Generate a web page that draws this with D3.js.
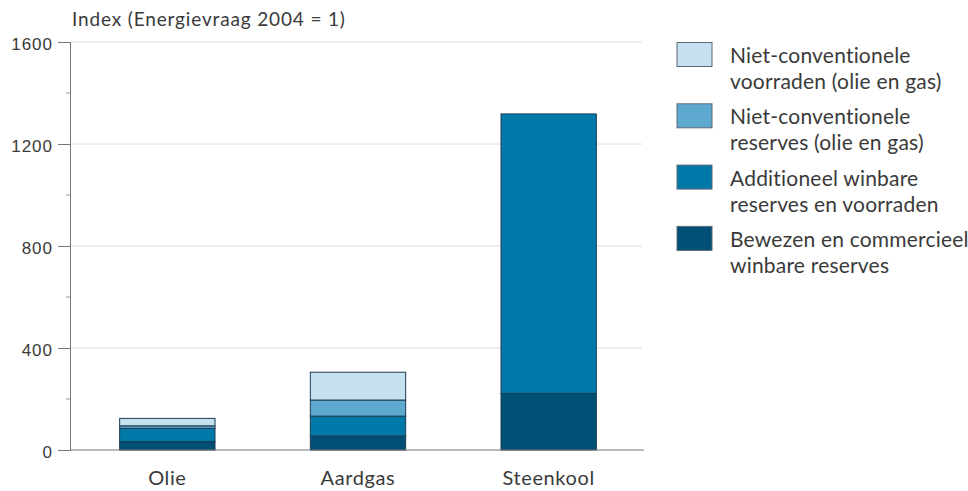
<!DOCTYPE html>
<html>
<head>
<meta charset="utf-8">
<script src="https://cdn.jsdelivr.net/npm/d3@7.9.0/dist/d3.min.js"></script>
<style>
  body { margin: 0; background: #fff; }
  svg { font-family: Lato, sans-serif; }
</style>
</head>
<body>
<svg id="chart" width="968" height="491"></svg>
<script>
const categories = ['Olie', 'Aardgas', 'Steenkool'];
const seriesNames = [
  'Bewezen en commercieel winbare reserves',
  'Additioneel winbare reserves en voorraden',
  'Niet-conventionele reserves (olie en gas)',
  'Niet-conventionele voorraden (olie en gas)'
];
const bewezen = [33, 55, 222];
const additioneel = [52, 78, 1096];
const nietConvReserves = [10, 63, 0];
const nietConvVoorraden = [29, 109, 0];
const yTicks = [0, 400, 800, 1200, 1600];
const minorTicks = [200, 600, 1000, 1400];
const colors = ['#004f74', '#0079a9', '#5ea9cf', '#c5e0ef'];
const legendLines = [
  ['Niet-conventionele', 'voorraden (olie en gas)'],
  ['Niet-conventionele', 'reserves (olie en gas)'],
  ['Additioneel winbare', 'reserves en voorraden'],
  ['Bewezen en commercieel', 'winbare reserves']
];

const table = categories.map((c, i) => ({
  cat: c, s0: bewezen[i], s1: additioneel[i], s2: nietConvReserves[i], s3: nietConvVoorraden[i]
}));
const stack = d3.stack().keys(['s0', 's1', 's2', 's3'])(table);

const svg = d3.select('#chart');
const mLeft = 70, mRight = 642, mTop = 42, mBottom = 450;
const textColor = '#3a3a3a';

const x = d3.scaleBand().domain(categories).range([72, 644]).paddingInner(0.5).paddingOuter(0.25);
const y = d3.scaleLinear().domain([0, 1600]).range([mBottom, mTop]);

// grid
svg.append('g').selectAll('line').data(yTicks.filter(d => d > 0)).join('line')
  .attr('x1', mLeft).attr('x2', mRight)
  .attr('y1', d => y(d)).attr('y2', d => y(d))
  .attr('stroke', '#dcdcdc').attr('stroke-width', 1);

// bars
svg.append('g').selectAll('g').data(stack).join('g')
  .attr('fill', (d, i) => colors[i])
  .selectAll('rect').data(d => d.filter(s => s[1] - s[0] > 0)).join('rect')
  .attr('x', d => x(d.data.cat))
  .attr('width', x.bandwidth())
  .attr('y', d => y(d[1]))
  .attr('height', d => y(d[0]) - y(d[1]))
  .attr('stroke', '#1d3d52').attr('stroke-width', 1);

// y axis
const yAxis = d3.axisLeft(y).tickValues(yTicks).tickSize(12).tickPadding(5).tickFormat(d3.format('d'));
const ya = svg.append('g').attr('transform', `translate(${mLeft},0)`).call(yAxis);
ya.select('.domain').attr('stroke', '#777');
ya.selectAll('.tick line').attr('stroke', '#777');
ya.selectAll('.tick text').attr('fill', textColor).attr('font-size', 17)
  .attr('letter-spacing', 1).attr('dy', '0.42em');
svg.append('g').selectAll('line').data(minorTicks).join('line')
  .attr('x1', mLeft - 4).attr('x2', mLeft)
  .attr('y1', d => y(d)).attr('y2', d => y(d))
  .attr('stroke', '#999');

// baseline
svg.append('line').attr('x1', mLeft).attr('x2', mRight + 2)
  .attr('y1', y(0)).attr('y2', y(0)).attr('stroke', '#777').attr('stroke-width', 1.2);

// x labels
svg.append('g').selectAll('text').data(categories).join('text')
  .attr('x', d => x(d) + x.bandwidth() / 2)
  .attr('y', 485)
  .attr('text-anchor', 'middle')
  .attr('font-size', 20).attr('letter-spacing', 0.6).attr('fill', textColor)
  .text(d => d);

// title
svg.append('text').attr('x', 72).attr('y', 26)
  .attr('font-size', 19).attr('letter-spacing', 0.85).attr('fill', textColor)
  .text('Index (Energievraag 2004 = 1)');

// legend
const lg = svg.append('g').selectAll('g').data(legendLines).join('g')
  .attr('transform', (d, i) => `translate(677,${42.5 + i * 61.3})`);
lg.append('rect').attr('width', 35).attr('height', 24)
  .attr('fill', (d, i) => colors[3 - i])
  .attr('stroke', '#5a6a75').attr('stroke-width', 1);
lg.append('text').attr('x', 53).attr('y', 20.5)
  .attr('font-size', 21).attr('letter-spacing', 0.2).attr('fill', textColor)
  .selectAll('tspan').data(d => d).join('tspan')
  .attr('x', 53).attr('dy', (d, i) => i === 0 ? 0 : 26)
  .text(d => d);
</script>
</body>
</html>
